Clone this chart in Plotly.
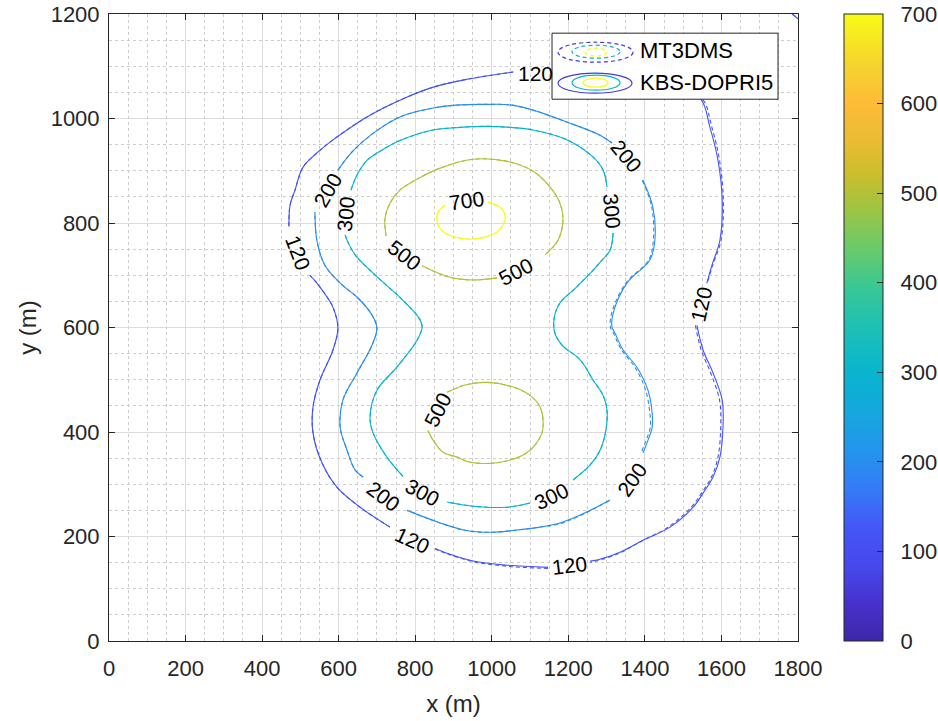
import plotly.graph_objects as go

# ---------------- data (metres / concentration levels) ----------------
levels = [120, 200, 300, 500, 700]
cbar_ticks = [0, 100, 200, 300, 400, 500, 600, 700]
x_ticks = [0, 200, 400, 600, 800, 1000, 1200, 1400, 1600, 1800]
y_ticks = [0, 200, 400, 600, 800, 1000, 1200]

# KBS-DOPRI5 contour polylines (None = gap where inline label sits)
kbs_120_x = [1160, 1257, 1361, 1466, 1544, 1570, 1591, 1602, 1596, 1575, 1562, None,
             1536, 1552, 1578, 1602, 1604, 1596, 1578, 1552, 1526, 1466, 1395, 1335, 1275, 1257, None,
             1147, 1040, 951, 883, 852, None,
             734, 656, 596, 557, 533, 533, 551, 585, 598, 585, 570, 543, 525, None,
             470, 473, 486, 507, 551, 585, 674, 760, 847, 935, 1056, None,
             1785, 1800]
kbs_120_y = [1087, 1083, 1073, 1058, 1039, 983, 920, 844, 767, 719, 685, None,
             604, 557, 513, 461, 409, 352, 314, 283, 256, 218, 193, 170, 155, 153, None,
             141, 145, 153, 168, 177, None,
             218, 256, 294, 340, 398, 448, 499, 557, 599, 639, 658, 685, 700, None,
             794, 834, 863, 907, 939, 959, 1003, 1035, 1060, 1075, 1089, None,
             1200, 1191]

kbs_200_x = [598, 635, 687, 760, 847, 917, 988, 1048, 1108, 1197, 1283, 1314, None,
             1395, 1421, 1426, 1413, 1353, 1317, 1314, 1322, 1343, 1379, 1408, 1419, 1419, 1408, 1395, None,
             1309, 1231, 1178, 1126, 1061, 995, 930, 865, 779, None,
             664, 643, 622, 604, 611, 648, 687, 700, 687, 651, 604, 564, 543, 538]
kbs_200_y = [901, 936, 970, 1003, 1020, 1026, 1027, 1026, 1016, 993, 968, 953, None,
             882, 830, 767, 729, 685, 627, 601, 589, 557, 524, 480, 436, 409, 384, 360, None,
             270, 241, 226, 218, 212, 208, 212, 226, 250, None,
             314, 327, 365, 409, 461, 513, 566, 599, 624, 656, 685, 719, 767, 821]

kbs_300_x = [632, 648, 674, 721, 760, 847, 917, 988, 1048, 1108, 1197, 1265, 1291, 1301, None,
             1317, 1309, 1283, 1265, 1218, 1178, 1163, 1165, 1184, 1231, 1265, 1291, 1301, 1298, 1283, 1257, 1212, None,
             1100, 1040, 951, 883, None,
             768, 726, 690, 682, 700, 752, 805, 818, 810, 768, 690, 643, 622, 617]
kbs_300_y = [863, 892, 920, 943, 958, 978, 983, 985, 983, 978, 959, 926, 901, 869, None,
             781, 748, 725, 710, 675, 647, 618, 589, 566, 538, 499, 470, 442, 403, 365, 337, 308, None,
             264, 256, 258, 266, None,
             315, 352, 398, 428, 480, 524, 576, 601, 618, 652, 704, 739, 767, 777]

kbs_500_x = [724, 721, 734, 760, 805, 865, 951, 1040, 1108, 1152, 1178, 1186, 1173, 1139, None,
             1014, 951, 891, 818, None,
             883, 930, 988, 1056, 1100, 1126, 1134, 1131, 1108, 1082, 1035, 995, 943, 909, 873, 847, 833]
kbs_500_y = [775, 809, 838, 863, 884, 905, 922, 918, 899, 869, 838, 806, 767, 739, None,
             695, 691, 696, 718, None,
             476, 490, 495, 486, 470, 448, 423, 398, 371, 356, 344, 340, 342, 352, 361, 384, 403]

kbs_700_x = [990, 1022, 1035, 1029, 1014, 982, 943, 904, 873, 857, 860, 878]
kbs_700_y = [840, 830, 815, 796, 783, 773, 769, 773, 783, 802, 821, 834]

# MT3DMS contour polylines
mt_120_x = [1160, 1257, 1361, 1466, 1548, 1575, 1595, 1605, 1599, 1577, 1563, None,
            1532, 1547, 1572, 1595, 1598, 1591, 1574, 1548, 1521, 1461, 1391, 1333, 1273, 1257, None,
            1147, 1040, 951, 883, 852, None,
            734, 656, 596, 557, 533, 533, 551, 585, 598, 585, 570, 543, 525, None,
            470, 473, 486, 507, 551, 585, 674, 760, 847, 935, 1056, None,
            1785, 1800]
mt_120_y = [1087, 1083, 1073, 1058, 1039, 983, 920, 844, 767, 719, 685, None,
            604, 557, 513, 461, 409, 352, 314, 283, 256, 218, 191, 168, 153, 151, None,
            139, 143, 152, 167, 176, None,
            218, 256, 294, 340, 398, 448, 499, 557, 599, 639, 658, 685, 700, None,
            794, 834, 863, 907, 939, 959, 1003, 1035, 1060, 1075, 1089, None,
            1200, 1191]

mt_200_x = [598, 635, 687, 760, 847, 917, 988, 1048, 1108, 1197, 1283, 1314, None,
            1393, 1418, 1422, 1410, 1350, 1313, 1310, 1318, 1339, 1374, 1402, 1413, 1414, 1403, 1390, None,
            1306, 1228, 1176, 1126, 1061, 995, 930, 865, 779, None,
            664, 643, 622, 604, 611, 648, 687, 700, 687, 651, 604, 564, 543, 538]
mt_200_y = [901, 936, 970, 1003, 1020, 1026, 1027, 1026, 1016, 993, 968, 953, None,
            882, 830, 767, 729, 685, 627, 601, 589, 557, 524, 480, 436, 409, 384, 360, None,
            268, 239, 224, 218, 212, 208, 212, 226, 250, None,
            314, 327, 365, 409, 461, 513, 566, 599, 624, 656, 685, 719, 767, 821]

mt_300_x = kbs_300_x
mt_300_y = kbs_300_y
mt_500_x = kbs_500_x
mt_500_y = kbs_500_y
mt_700_x = kbs_700_x
mt_700_y = kbs_700_y

# inline contour labels
label_x = [1113, 1549, 1202, 794, 494,
           570, 1353, 1366, 718,
           619, 1314, 1155, 820,
           773, 1063, 857,
           935]
label_y = [1087, 645, 145, 193, 744,
           863, 928, 310, 277,
           818, 822, 277, 285,
           738, 708, 442,
           844]
label_text = ["120", "120", "120", "120", "120",
              "200", "200", "200", "200",
              "300", "300", "300", "300",
              "500", "500", "500",
              "700"]
label_angle = [0, -77, -7, 25, 69,
               -60, 50, -55, 37,
               -84, 85, -26, 28,
               38, -28, -63,
               -8]

# ---------------- styling ----------------
PARULA = [
    (0.000, (62, 38, 168)), (0.060, (70, 50, 205)), (0.120, (71, 72, 236)),
    (0.180, (68, 86, 247)), (0.240, (52, 122, 248)), (0.300, (36, 148, 236)),
    (0.360, (22, 166, 222)), (0.430, (8, 181, 206)), (0.500, (30, 192, 180)),
    (0.560, (55, 199, 150)), (0.620, (100, 203, 110)), (0.680, (150, 198, 72)),
    (0.740, (200, 190, 45)), (0.800, (235, 188, 50)), (0.860, (254, 188, 56)),
    (0.920, (245, 212, 45)), (1.000, (249, 251, 21)),
]
colorscale = [[p, "rgb(%d,%d,%d)" % c] for p, c in PARULA]


def parula(v, vmax=700.0):
    t = max(0.0, min(1.0, v / vmax))
    for (p0, c0), (p1, c1) in zip(PARULA[:-1], PARULA[1:]):
        if p0 <= t <= p1:
            f = (t - p0) / (p1 - p0) if p1 > p0 else 0
            c = [round(a + (b - a) * f) for a, b in zip(c0, c1)]
            return "rgb(%d,%d,%d)" % tuple(c)
    return "rgb(%d,%d,%d)" % PARULA[-1][1]


FONT = "Arial, 'Liberation Sans', Helvetica, sans-serif"
AX = "#262626"

mt_series = {120: (mt_120_x, mt_120_y), 200: (mt_200_x, mt_200_y), 300: (mt_300_x, mt_300_y),
             500: (mt_500_x, mt_500_y), 700: (mt_700_x, mt_700_y)}
kbs_series = {120: (kbs_120_x, kbs_120_y), 200: (kbs_200_x, kbs_200_y), 300: (kbs_300_x, kbs_300_y),
              500: (kbs_500_x, kbs_500_y), 700: (kbs_700_x, kbs_700_y)}

fig = go.Figure()
for lv in levels:
    x, y = kbs_series[lv]
    fig.add_trace(go.Scatter(x=x, y=y, mode="lines", name="KBS-DOPRI5 %d" % lv,
                             line=dict(color=parula(lv), width=1.1, shape="spline", smoothing=1.0),
                             showlegend=False, hoverinfo="skip"))
for lv in levels:
    x, y = mt_series[lv]
    fig.add_trace(go.Scatter(x=x, y=y, mode="lines", name="MT3DMS %d" % lv,
                             line=dict(color=parula(lv), width=1.1, dash="4px,3px",
                                       shape="spline", smoothing=1.0),
                             showlegend=False, hoverinfo="skip"))

# colour bar carrier (invisible)
fig.add_trace(go.Scatter(
    x=[0], y=[0], mode="markers", showlegend=False, hoverinfo="skip",
    marker=dict(size=1, opacity=0, color=[0], colorscale=colorscale, cmin=0, cmax=700,
                showscale=True,
                colorbar=dict(thickness=39, thicknessmode="pixels", len=1, lenmode="fraction",
                              x=1.0668, xanchor="left", y=0.5, yanchor="middle", xpad=0, ypad=0,
                              outlinewidth=1, outlinecolor=AX,
                              tickvals=cbar_ticks,
                              ticktext=["\u00a0\u00a0" + str(v) for v in cbar_ticks],
                              ticklabeloverflow="allow",
                              ticks="inside", ticklen=6, tickcolor=AX, tickwidth=1,
                              tickfont=dict(family=FONT, size=22, color=AX)))))

annotations = []
for lx, ly, lt, la in zip(label_x, label_y, label_text, label_angle):
    annotations.append(dict(x=lx, y=ly, xref="x", yref="y", text=lt, showarrow=False,
                            textangle=la, font=dict(family=FONT, size=21, color="black"),
                            xanchor="center", yanchor="middle"))

# custom legend (paper coordinates)
shapes = [dict(type="rect", xref="paper", yref="paper", x0=0.6430, x1=0.9710, y0=0.8641, y1=0.9694,
               fillcolor="white", line=dict(color=AX, width=1), layer="above")]
leg_cols = [parula(60), parula(300), parula(700)]
dashed_boxes = [(0.6517, 0.7605, 0.9231, 0.9550), (0.6720, 0.7417, 0.9295, 0.9502),
                (0.6909, 0.7228, 0.9327, 0.9455)]
solid_boxes = [(0.6517, 0.7591, 0.8737, 0.9056), (0.6720, 0.7417, 0.8785, 0.9024),
               (0.6880, 0.7242, 0.8833, 0.8976)]
for (x0, x1, y0, y1), c in zip(dashed_boxes, leg_cols):
    shapes.append(dict(type="circle", xref="paper", yref="paper", x0=x0, x1=x1, y0=y0, y1=y1,
                       line=dict(color=c, width=1.2, dash="4px,3px"), layer="above"))
for (x0, x1, y0, y1), c in zip(solid_boxes, leg_cols):
    shapes.append(dict(type="circle", xref="paper", yref="paper", x0=x0, x1=x1, y0=y0, y1=y1,
                       line=dict(color=c, width=1.2), layer="above"))
annotations.append(dict(x=0.7678, y=0.9423, xref="paper", yref="paper", text="MT3DMS",
                        showarrow=False, xanchor="left", yanchor="middle",
                        font=dict(family=FONT, size=22, color="black")))
annotations.append(dict(x=0.7678, y=0.8912, xref="paper", yref="paper", text="KBS-DOPRI5",
                        showarrow=False, xanchor="left", yanchor="middle",
                        font=dict(family=FONT, size=22, color="black")))

axis_common = dict(showline=True, linecolor=AX, linewidth=1, mirror="ticks",
                   ticks="inside", ticklen=6, tickcolor=AX, tickwidth=1,
                   showgrid=True, gridcolor="#DCDCDC", gridwidth=1, zeroline=False,
                   automargin=False, ticklabeloverflow="allow",
                   tickfont=dict(family=FONT, size=22, color=AX),
                   minor=dict(dtick=50, showgrid=True, gridcolor="#CDCDCD", griddash="dot",
                              gridwidth=1, ticks=""))

fig.update_layout(
    width=938, height=721, autosize=False,
    margin=dict(l=109, r=140, t=14, b=80, autoexpand=False),
    paper_bgcolor="white", plot_bgcolor="white",
    showlegend=False,
    xaxis=dict(range=[0, 1800], tickvals=x_ticks, ticktext=[str(v) for v in x_ticks],
               ticklabelstandoff=8,
               title=dict(text="x (m)", standoff=14, font=dict(family=FONT, size=24, color=AX)),
               **axis_common),
    yaxis=dict(range=[0, 1200], tickvals=y_ticks, ticktext=[str(v) for v in y_ticks],
               ticklabelstandoff=4,
               title=dict(text="y (m)", standoff=7, font=dict(family=FONT, size=24, color=AX)),
               **axis_common),
    annotations=annotations,
    shapes=shapes,
)

fig.write_html("out.html", config={"displayModeBar": False},
               post_script="document.body.style.margin='0';document.body.style.overflow='hidden';")
